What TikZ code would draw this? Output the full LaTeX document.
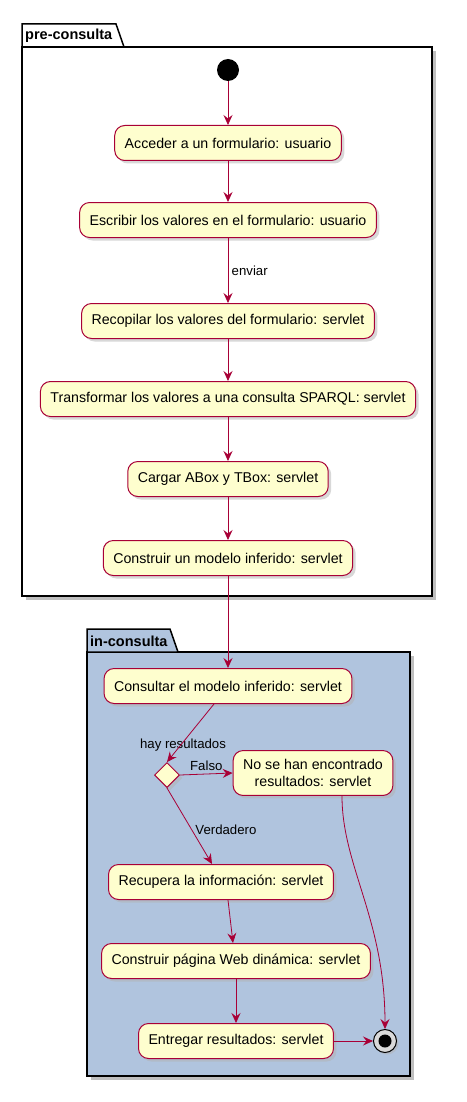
\documentclass[tikz,border=0pt]{standalone}
\usepackage{fontspec}
\setmainfont{Liberation Sans}
\usetikzlibrary{arrows.meta,shadows,shapes.geometric}
\definecolor{umlred}{HTML}{A80036}
\definecolor{umlfill}{HTML}{FEFECE}
\definecolor{pkgblue}{HTML}{B0C4DE}
\begin{document}
\begin{tikzpicture}[x=1pt,y=-1pt]
\tikzstyle{act} = [draw=umlred, fill=umlfill, line width=1pt, rounded corners=10pt, minimum height=35pt, inner xsep=10pt, font=\fontsize{14.2}{16.5}\selectfont, drop shadow={shadow xshift=3pt,shadow yshift=-3pt,fill=black!30}];
\tikzstyle{flow} = [draw=umlred, line width=0.8pt, -{Stealth[length=10pt,width=9pt,inset=3.5pt]}];
\tikzstyle{pkg} = [draw=black, line width=1.5pt];
\tikzstyle{lbl} = [font=\fontsize{13.2}{15}\selectfont];

\useasboundingbox (0,0) rectangle (466,1102);

% pre-consulta
\fill[black!25] (26,51) rectangle (436,600);
\filldraw[pkg, fill=white] (22,47) rectangle (432,596);
\filldraw[pkg, fill=white] (22,47) -- (22,24) -- (116,24) -- (124,47) -- cycle;
\node[anchor=west, font=\fontsize{14.5}{16}\selectfont\bfseries, inner sep=0] (p-1) at (25,36) {pre-consulta};

% in-consulta
\fill[black!25] (91,656) rectangle (414,1080);
\filldraw[pkg, fill=pkgblue] (87,652) rectangle (410,1076);
\filldraw[pkg, fill=pkgblue] (87,652) -- (87,629) -- (170,629) -- (178,652) -- cycle;
\node[anchor=west, font=\fontsize{14.5}{16}\selectfont\bfseries, inner sep=0] (p-2) at (90,641) {in-consulta};

\node[circle, fill=black, minimum size=22pt, inner sep=0] (s) at (228,70) {};

\foreach \i/\y/\t in {1/143/Acceder a un formulario: usuario,
                      2/220/Escribir los valores en el formulario: usuario,
                      3/321/Recopilar los valores del formulario: servlet,
                      4/399/Transformar los valores a una consulta SPARQL: servlet,
                      5/479/Cargar ABox y TBox: servlet,
                      6/558/Construir un modelo inferido: servlet,
                      7/686/Consultar el modelo inferido: servlet}
	\node[act] (n-\i) at (228,\y) {\t};

\node[act, align=center, inner ysep=9pt] (n-8) at (313,773) {No se han encontrado\\resultados: servlet};
\node[act] (n-9) at (221,882) {Recupera la información: servlet};
\node[act] (n-10) at (236,961) {Construir página Web dinámica: servlet};
\node[act] (n-11) at (236,1041) {Entregar resultados: servlet};

\node[diamond, draw=umlred, fill=umlfill, line width=1pt, minimum size=25pt, inner sep=0, drop shadow={shadow xshift=3pt,shadow yshift=-3pt,fill=black!30}] (d) at (167,775) {};
\node[lbl] (c) at (183,745) {hay resultados};

\node[circle, draw=black, fill=black!15, line width=1pt, minimum size=23pt, inner sep=0, drop shadow={shadow xshift=2pt,shadow yshift=-2pt,fill=black!30}] (e) at (385,1041) {};
\fill[black] (e.center) circle (6.5pt);

\draw[flow] (s) -- (n-1);
\draw[flow] (n-1) -- (n-2);
\draw[flow] (n-2) -- node[right, lbl] {enviar} (n-3);
\foreach \i/\j in {3/4,4/5,5/6,6/7}
	\draw[flow] (n-\i) -- (n-\j);
\draw[flow] ([xshift=-14pt]n-7.south) -- (d.north);
\draw[flow] (d.east) -- node[above, lbl] {Falso} (n-8.west);
\draw[flow] (d.south) -- node[right, lbl, pos=0.55] {Verdadero} ([xshift=-9pt]n-9.north);
\draw[flow] ([xshift=7pt]n-9.south) -- ([xshift=-3pt]n-10.north);
\draw[flow] (n-10) -- (n-11);
\draw[flow] (n-11) -- (e);
\draw[flow] ([xshift=29pt]n-8.south) .. controls +(0,70) and +(0,-110) .. (e.north);
\end{tikzpicture}
\end{document}
